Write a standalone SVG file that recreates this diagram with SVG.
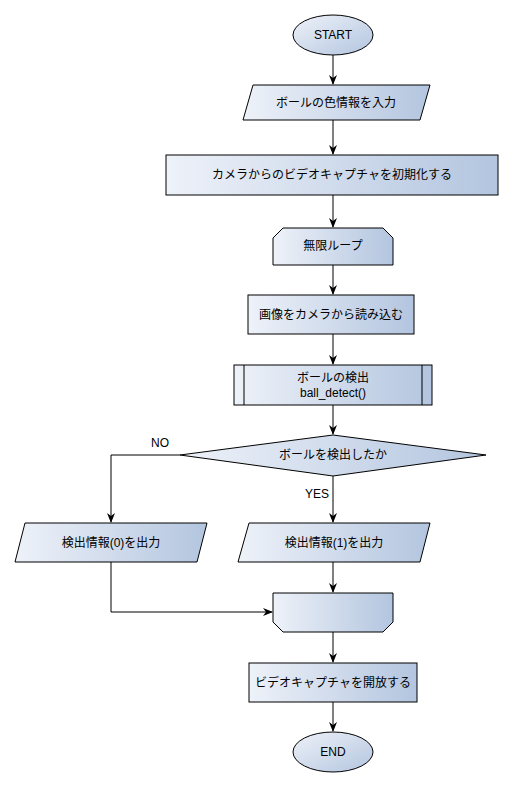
<svg xmlns="http://www.w3.org/2000/svg" width="515" height="788" viewBox="0 0 515 788">
<style>
.s{stroke:#000;stroke-width:1;fill:url(#g)}
.t{font-family:"Liberation Sans","Noto Sans CJK JP",sans-serif;font-size:12px;fill:#000;text-anchor:middle;dominant-baseline:central}
.c{fill:none;stroke:#000;stroke-width:1}
</style>
<defs>
<linearGradient id="g" x1="0" y1="0" x2="1" y2="0"><stop offset="0" stop-color="#eef2f9"/><stop offset="1" stop-color="#b3c5df"/></linearGradient>
<linearGradient id="ge" x1="0" y1="0" x2="1" y2="1"><stop offset="0" stop-color="#eef2f9"/><stop offset="1" stop-color="#b3c5df"/></linearGradient>
<marker id="a" markerWidth="10" markerHeight="10" refX="9" refY="5" orient="auto" markerUnits="userSpaceOnUse"><path d="M0,1 L10,5 L0,9 L3,5 Z" fill="#000"/></marker>
</defs>
<g id="connectors">
<path class="c" d="M333,55 V84" marker-end="url(#a)"/>
<path class="c" d="M333,120 V154" marker-end="url(#a)"/>
<path class="c" d="M333,195 V227" marker-end="url(#a)"/>
<path class="c" d="M333,265 V294" marker-end="url(#a)"/>
<path class="c" d="M333,334 V364" marker-end="url(#a)"/>
<path class="c" d="M333,405 V434" marker-end="url(#a)"/>
<path class="c" d="M180,455 H111 V522" marker-end="url(#a)"/>
<path class="c" d="M333,476 V522" marker-end="url(#a)"/>
<path class="c" d="M333,562 V592" marker-end="url(#a)"/>
<path class="c" d="M111,562 V612 H272" marker-end="url(#a)"/>
<path class="c" d="M333,632 V662" marker-end="url(#a)"/>
<path class="c" d="M333,702 V731" marker-end="url(#a)"/>
<text class="t" x="160" y="443">NO</text>
<text class="t" x="317" y="494">YES</text>
</g>
<g id="start"><ellipse class="s" style="fill:url(#ge)" cx="333" cy="35" rx="40" ry="20"/><text class="t" x="333" y="35">START</text></g>
<g id="input"><polygon class="s" points="253,85 430,85 420,120 243,120"/><text class="t" x="336" y="103">ボールの色情報を入力</text></g>
<g id="init"><rect class="s" x="166" y="155" width="332" height="40"/><text class="t" x="332" y="175">カメラからのビデオキャプチャを初期化する</text></g>
<g id="loopstart"><polygon class="s" points="283,228 383,228 393,238 393,265 273,265 273,238"/><text class="t" x="333" y="246">無限ループ</text></g>
<g id="read"><rect class="s" x="248" y="295" width="166" height="39"/><text class="t" x="331" y="315">画像をカメラから読み込む</text></g>
<g id="detect"><rect class="s" x="234" y="365" width="198" height="40"/><line class="c" x1="244" y1="365" x2="244" y2="405"/><line class="c" x1="422" y1="365" x2="422" y2="405"/><text class="t" x="333" y="378">ボールの検出</text><text class="t" x="333" y="393">ball_detect()</text></g>
<g id="decision"><polygon class="s" points="333,435 486,455 333,476 180,455"/><text class="t" x="333" y="455">ボールを検出したか</text></g>
<g id="out0"><polygon class="s" points="25,523 207,523 197,562 15,562"/><text class="t" x="111" y="543">検出情報(0)を出力</text></g>
<g id="out1"><polygon class="s" points="249,523 430,523 420,562 238,562"/><text class="t" x="334" y="543">検出情報(1)を出力</text></g>
<g id="loopend"><polygon class="s" points="273,593 393,593 393,622 383,632 283,632 273,622"/></g>
<g id="release"><rect class="s" x="249" y="663" width="168" height="39"/><text class="t" x="333" y="683">ビデオキャプチャを開放する</text></g>
<g id="end"><ellipse class="s" style="fill:url(#ge)" cx="333" cy="752" rx="40" ry="20"/><text class="t" x="333" y="752">END</text></g>
</svg>
